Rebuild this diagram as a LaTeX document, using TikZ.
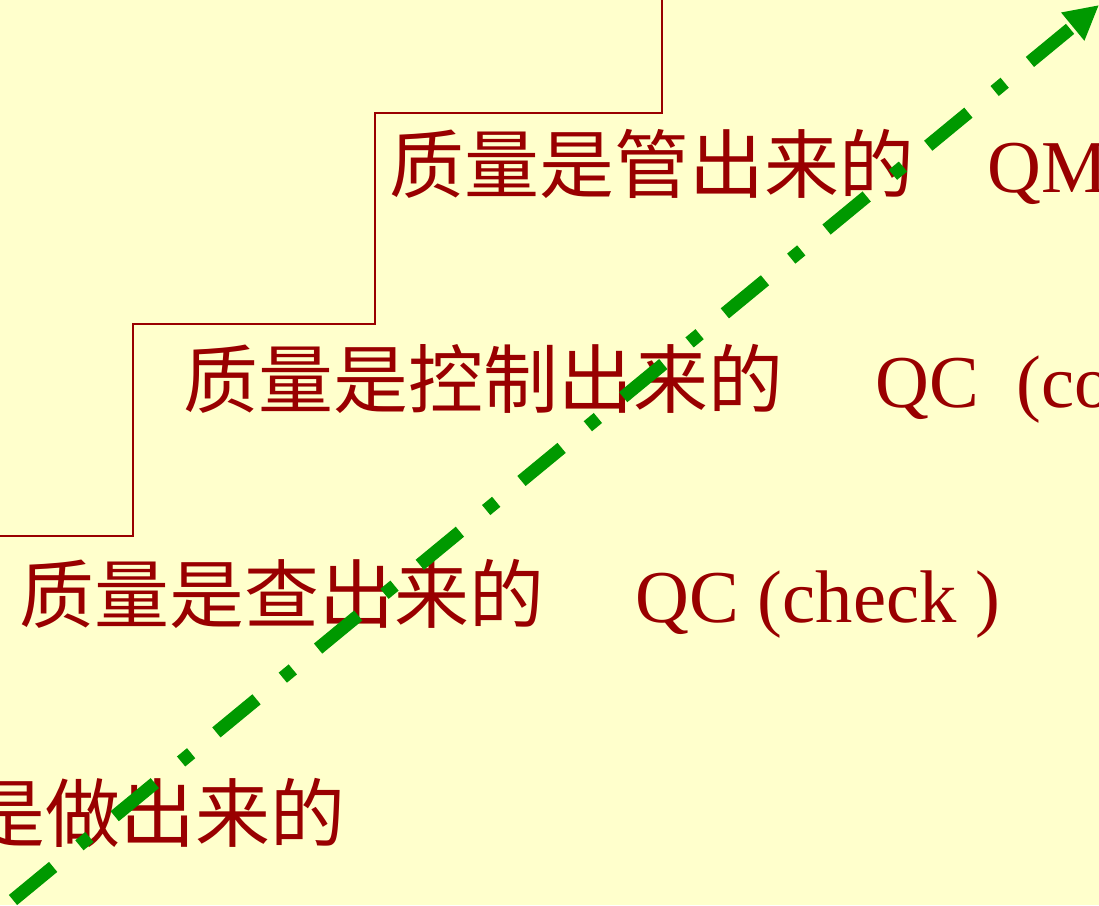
\documentclass[tikz,border=0pt]{standalone}
\usepackage{fontspec}
\setmainfont{Liberation Serif}
\newfontfamily\cjk{Noto Sans CJK SC}
\usetikzlibrary{arrows.meta}
\definecolor{bgyellow}{RGB}{255,255,204}
\definecolor{darkred}{RGB}{153,0,0}
\definecolor{arrowgreen}{RGB}{0,153,0}
\begin{document}
\begin{tikzpicture}[x=0.01cm,y=-0.01cm,
  cjktext/.style={anchor=base west,inner sep=0pt,text=darkred,font=\cjk\fontsize{21.3}{26}\selectfont},
  latintext/.style={anchor=base west,inner sep=0pt,text=darkred,font=\fontsize{21.2}{26}\selectfont},
  stairline/.style={draw=darkred,line width=0.5pt},
  trendarrow/.style={draw=arrowgreen,line width=0.13cm,line cap=butt,
    dash pattern=on 0.52cm off 0.34cm on 0.13cm off 0.327cm,
    -{Triangle[length=0.34cm,width=0.34cm]}}]
\useasboundingbox (0,0) rectangle (1099,905);
\fill[bgyellow] (0,0) rectangle (1099,905);
\clip (0,0) rectangle (1099,905);
% stairs
\draw[stairline] (0,536) -- (133,536) -- (133,324) -- (375,324) -- (375,113) -- (662,113) -- (662,0);
% rows
\node[cjktext] (rowmgmt) at (389,192) {质量是管出来的};
\node[latintext] (qm) at (987,192) {QM};
\node[cjktext] (rowctrl) at (183,407) {质量是控制出来的};
\node[latintext] (qcctrl) at (875,407) {QC~~(co};
\node[cjktext] (rowcheck) at (19,622) {质量是查出来的};
\node[latintext] (qccheck) at (635,622) {QC (check )};
\node[cjktext] (rowmake) at (-30,841) {是做出来的};
% trend arrow
\coordinate (arrowstart) at (13,900);
\coordinate (arrowend) at (1099,5);
\draw[trendarrow] (arrowstart) -- (arrowend);
\end{tikzpicture}
\end{document}
